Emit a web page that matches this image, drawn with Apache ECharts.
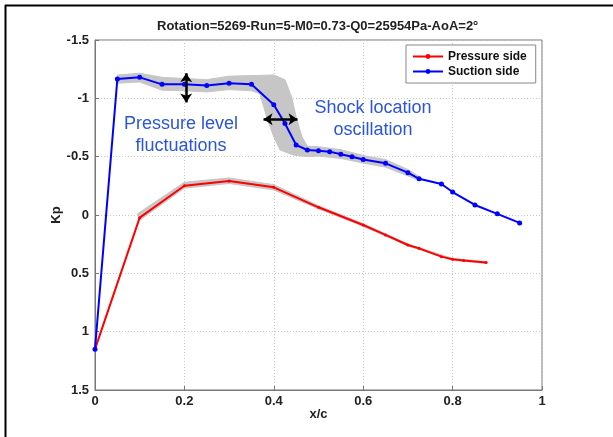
<!DOCTYPE html>
<html>
<head>
<meta charset="utf-8">
<script src="https://cdn.jsdelivr.net/npm/echarts@6/dist/echarts.min.js"></script>
<style>
html,body{margin:0;padding:0;background:#fff;}
#c{width:613px;height:437px;}
</style>
</head>
<body>
<div id="c"></div>
<script>
// ---- data ----
const suctionX = [0, 0.05, 0.1, 0.15, 0.2, 0.25, 0.3, 0.35, 0.4, 0.425, 0.45, 0.475, 0.5, 0.525, 0.55, 0.575, 0.6, 0.65, 0.7, 0.725, 0.775, 0.8, 0.85, 0.9, 0.95];
const suctionKp = [1.15, -1.165, -1.18, -1.12, -1.12, -1.11, -1.13, -1.12, -0.945, -0.785, -0.60, -0.557, -0.55, -0.543, -0.52, -0.50, -0.475, -0.443, -0.363, -0.31, -0.266, -0.197, -0.086, -0.01, 0.068];
const pressureX = [0, 0.1, 0.2, 0.3, 0.4, 0.5, 0.6, 0.65, 0.7, 0.725, 0.775, 0.8, 0.825, 0.875];
const pressureKp = [1.15, 0.023, -0.251, -0.291, -0.237, -0.066, 0.086, 0.171, 0.257, 0.286, 0.357, 0.38, 0.39, 0.408];
// fluctuation envelopes (x, Kp)
const suctionBandTop = [[0.05,-1.20],[0.1,-1.215],[0.15,-1.18],[0.2,-1.17],[0.25,-1.16],[0.3,-1.19],[0.35,-1.195],[0.4,-1.2],[0.425,-1.16],[0.44,-1.01],[0.45,-0.84],[0.463,-0.67],[0.475,-0.59],[0.5,-0.585],[0.55,-0.56],[0.6,-0.51],[0.65,-0.475],[0.7,-0.39],[0.725,-0.33]];
const suctionBandBottom = [[0.05,-1.13],[0.1,-1.14],[0.15,-1.07],[0.2,-1.065],[0.25,-1.055],[0.3,-1.075],[0.35,-1.065],[0.369,-1.04],[0.384,-0.84],[0.4,-0.67],[0.414,-0.557],[0.444,-0.514],[0.475,-0.50],[0.5,-0.505],[0.55,-0.485],[0.6,-0.445],[0.65,-0.41],[0.7,-0.335],[0.725,-0.295]];
const pressureBandTop = [[0.095,-0.01],[0.2,-0.28],[0.3,-0.318],[0.4,-0.26],[0.5,-0.08],[0.6,0.075],[0.7,0.248],[0.8,0.372],[0.875,0.4]];
const pressureBandBottom = [[0.1,0.045],[0.2,-0.23],[0.3,-0.27],[0.4,-0.215],[0.5,-0.052],[0.6,0.097],[0.7,0.266],[0.8,0.388],[0.875,0.416]];
const yTicks = [-1.5, -1, -0.5, 0, 0.5, 1, 1.5];
const xTicks = [0, 0.2, 0.4, 0.6, 0.8, 1];
const titleText = 'Rotation=5269-Run=5-M0=0.73-Q0=25954Pa-AoA=2°';
const seriesNames = ['Pressure side', 'Suction side'];
const arrowV = [[0.204, -1.215], [0.204, -0.965]];
const arrowH = [[0.377, -0.82], [0.453, -0.82]];

const FONT = '"Liberation Sans", Arial, sans-serif';
const chart = echarts.init(document.getElementById('c'), null, {renderer: 'canvas'});

function bandSeries(top, bottom) {
  return {
    type: 'custom',
    silent: true,
    z: 1,
    data: [[0, 0]],
    renderItem: function (params, api) {
      const pts = [];
      top.forEach(p => pts.push(api.coord(p)));
      bottom.slice().reverse().forEach(p => pts.push(api.coord(p)));
      return {type: 'polygon', shape: {points: pts}, style: {fill: '#c6c6c6', stroke: '#c6c6c6', lineWidth: 1}};
    }
  };
}

const option = {
  animation: false,
  backgroundColor: '#fff',
  textStyle: {fontFamily: FONT},
  title: {
    text: titleText, left: 152, top: 15,
    textStyle: {fontSize: 13, fontWeight: 'bold', color: '#222', fontFamily: FONT}
  },
  legend: {
    data: seriesNames,
    orient: 'vertical', left: 406, top: 45,
    padding: [4, 9, 4, 6], itemGap: 0, itemWidth: 30, itemHeight: 6,
    backgroundColor: '#fff', borderColor: '#888', borderWidth: 1,
    textStyle: {fontSize: 12, fontWeight: 'bold', color: '#111', fontFamily: FONT, lineHeight: 15}
  },
  grid: {left: 95, right: 71, top: 40, bottom: 47, show: true, borderColor: '#777', borderWidth: 1, containLabel: false},
  xAxis: {
    type: 'value', min: 0, max: 1, interval: 0.2,
    name: 'x/c', nameLocation: 'middle', nameGap: 18, nameMoveOverlap: false,
    nameTextStyle: {fontSize: 13, fontWeight: 'bold', color: '#222'},
    axisLine: {show: true, onZero: false, lineStyle: {color: '#777'}},
    axisTick: {show: true, inside: true, length: 4, lineStyle: {color: '#777'}},
    axisLabel: {fontSize: 13, fontWeight: 'bold', color: '#222', margin: 5,
      formatter: v => xTicks.indexOf(+v.toFixed(1)) >= 0 ? String(+v.toFixed(1)) : ''},
    splitLine: {show: true, lineStyle: {color: '#c8c8c8', type: [1, 2]}}
  },
  yAxis: {
    type: 'value', min: -1.5, max: 1.5, interval: 0.5, inverse: true,
    name: 'Kp', nameLocation: 'middle', nameGap: 32, nameRotate: 90, nameMoveOverlap: false,
    nameTextStyle: {fontSize: 13, fontWeight: 'bold', color: '#222'},
    axisLine: {show: true, onZero: false, lineStyle: {color: '#777'}},
    axisTick: {show: true, inside: true, length: 4, lineStyle: {color: '#777'}},
    axisLabel: {fontSize: 13, fontWeight: 'bold', color: '#222', margin: 6,
      formatter: v => yTicks.indexOf(+v.toFixed(1)) >= 0 ? String(+v.toFixed(1)) : ''},
    splitLine: {show: true, lineStyle: {color: '#c8c8c8', type: [1, 2]}}
  },
  graphic: [
    {type: 'line', shape: {x1: 5, y1: 5.5, x2: 613, y2: 5.5}, style: {stroke: '#000', lineWidth: 2}},
    {type: 'line', shape: {x1: 5.5, y1: 5, x2: 5.5, y2: 437}, style: {stroke: '#000', lineWidth: 2}},
    {type: 'text', x: 181, y: 135, z: 10,
      style: {text: 'Pressure level\nfluctuations', fill: '#2b55dd', font: '18px ' + FONT, align: 'center', verticalAlign: 'middle', lineHeight: 22}},
    {type: 'text', x: 373, y: 119, z: 10,
      style: {text: 'Shock location\noscillation', fill: '#2b55dd', font: '18px ' + FONT, align: 'center', verticalAlign: 'middle', lineHeight: 22}}
  ],
  series: [
    bandSeries(suctionBandTop, suctionBandBottom),
    bandSeries(pressureBandTop, pressureBandBottom),
    {
      name: seriesNames[0], type: 'line', z: 3,
      data: pressureX.map((x, i) => [x, pressureKp[i]]),
      color: '#ff0000',
      lineStyle: {color: '#ff0000', width: 2},
      itemStyle: {color: '#ff0000'},
      symbol: 'circle', symbolSize: 3, showSymbol: true
    },
    {
      name: seriesNames[1], type: 'line', z: 4,
      data: suctionX.map((x, i) => [x, suctionKp[i]]),
      color: '#0000ff',
      lineStyle: {color: '#0000ff', width: 2},
      itemStyle: {color: '#0000ff'},
      symbol: 'circle', symbolSize: 5, showSymbol: true,
      markLine: {
        silent: true, symbol: ['arrow', 'arrow'], symbolSize: [9, 9],
        label: {show: false},
        lineStyle: {color: '#000', width: 2.5, type: 'solid'},
        data: [
          [{coord: arrowV[0]}, {coord: arrowV[1]}],
          [{coord: arrowH[0]}, {coord: arrowH[1]}]
        ]
      }
    }
  ]
};
chart.setOption(option);
</script>
</body>
</html>
